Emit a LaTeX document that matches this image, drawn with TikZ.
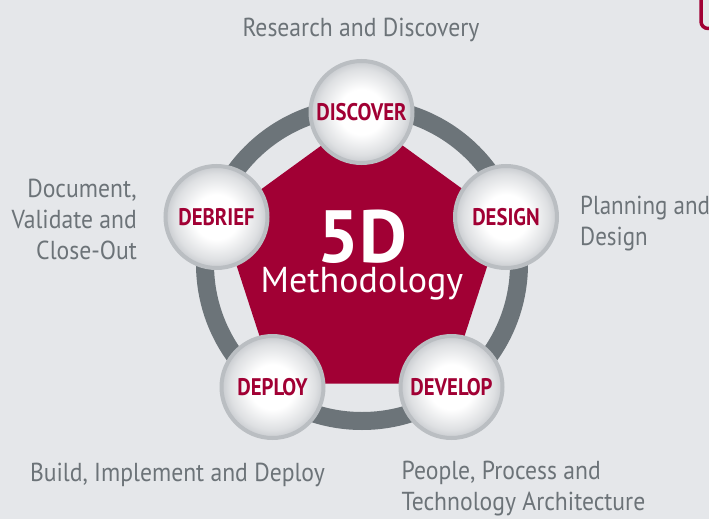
\documentclass[tikz,border=0pt]{standalone}
\usepackage{fontspec}
\setmainfont{PT Sans}
\newfontfamily\lblfont[FakeStretch=0.91]{PT Sans}
\newfontfamily\lblnarrow[FakeStretch=0.885]{PT Sans}
\newfontfamily\ballfont[FakeStretch=0.865]{PT Sans}
\definecolor{bgc}{RGB}{229,231,234}
\definecolor{fivered}{RGB}{161,0,52}
\definecolor{ringgray}{RGB}{108,116,121}
\definecolor{txtgray}{RGB}{108,115,120}
\definecolor{rimgray}{RGB}{186,190,194}
\definecolor{ballgray}{RGB}{200,203,207}
\pgfdeclareradialshading{ballshade}{\pgfpoint{0bp}{0bp}}{color(0bp)=(white); color(11bp)=(white); color(21bp)=(ballgray!60); color(25bp)=(ballgray); color(50bp)=(ballgray)}
\tikzset{
  ball/.style={circle, minimum size=102pt, inner sep=0pt, draw=rimgray, line width=4pt,
    shading=ballshade, text=fivered, font=\ballfont\bfseries\fontsize{24}{26}\selectfont},
  lbl/.style={text=txtgray, font=\lblfont\fontsize{26}{31}\selectfont, inner sep=0pt}
}
\begin{document}
\begin{tikzpicture}[x=1pt,y=-1pt]
\fill[bgc] (0,0) rectangle (709,519);
\useasboundingbox (0,0) rectangle (709,519);
% top-right box edge
\draw[fivered, line width=3.5pt, rounded corners=7pt] (740,-10) -- (701,-10) -- (701,28.5) -- (740,28.5);
\coordinate (c) at (362,264);
\draw[ringgray, line width=18pt] (c) circle[radius=157];
\fill[fivered] (362,116) -- (502.8,218.3) -- (449,383.7) -- (275,383.7) -- (221.2,218.3) -- cycle;
\node[text=white, font=\bfseries\fontsize{74}{74}\selectfont, anchor=base, inner sep=0pt] (fived) at (362,262) {5D};
\node[text=white, font=\fontsize{36}{36}\selectfont, anchor=base, inner sep=0pt] (meth) at (362,292.5) {Methodology};
\node[ball] (discover) at (361.5,112) {DISCOVER};
\node[ball] (design) at (506,217) {DESIGN};
\node[ball] (develop) at (451.5,387) {DEVELOP};
\node[ball] (deploy) at (272.5,387) {DEPLOY};
\node[ball] (debrief) at (216.5,217) {DEBRIEF};
\node[lbl, anchor=base] (l1) at (361,36.5) {Research and Discovery};
\node[lbl, font=\lblnarrow\fontsize{26}{31}\selectfont, anchor=base west, align=left] (l2) at (580,245) {Planning and\\Design};
\node[lbl, anchor=base east, align=right] (l3) at (137,259) {Document,\\Validate and\\Close-Out};
\node[lbl, anchor=base] (l4) at (177.5,481.5) {Build, Implement and Deploy};
\node[lbl, anchor=base west, align=left] (l5) at (401.5,510) {People, Process and\\Technology Architecture};
\end{tikzpicture}
\end{document}
